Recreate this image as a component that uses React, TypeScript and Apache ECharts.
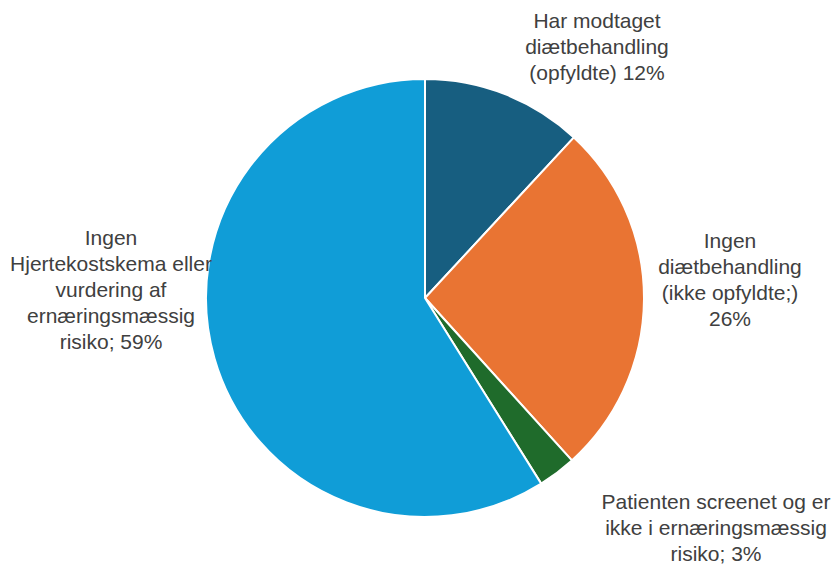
import React, { useEffect, useRef } from "react";
import * as echarts from "echarts";

const names = [
  "Har modtaget\ndiætbehandling\n(opfyldte)",
  "Ingen\ndiætbehandling\n(ikke opfyldte;)",
  "Patienten screenet og er\nikke i ernæringsmæssig\nrisiko;",
  "Ingen\nHjertekostskema eller\nvurdering af\nernæringsmæssig\nrisiko;",
];
const separators = [" ", "\n", " ", " "];
const values = [11.9, 26.4, 2.8, 58.9];
const colors = ["#175e80", "#e97433", "#1f6b2b", "#109dd7"];
const labelPos: [number, number][] = [
  [597, 46],
  [730, 279],
  [716, 527],
  [111, 289],
];

export default function App() {
  const ref = useRef<HTMLDivElement>(null);
  useEffect(() => {
    document.body.style.margin = "0";
    const chart = echarts.init(ref.current!, null, { renderer: "svg" });
    chart.setOption({
      animation: false,
      backgroundColor: "#ffffff",
      series: [
        {
          type: "pie",
          center: [425, 298],
          radius: 219,
          startAngle: 90,
          clockwise: true,
          itemStyle: { borderColor: "#ffffff", borderWidth: 2 },
          label: {
            show: true,
            color: "#404040",
            fontFamily: "Liberation Sans",
            fontSize: 21,
            lineHeight: 26,
            align: "center",
            overflow: "none",
            width: 400,
            formatter: (p: any) =>
              p.name + separators[p.dataIndex] + Math.round(p.percent) + "%",
          },
          labelLine: { show: false },
          labelLayout: (params: any) => ({
            x: labelPos[params.dataIndex][0],
            y: labelPos[params.dataIndex][1],
            align: "center",
            verticalAlign: "middle",
          }),
          emphasis: { disabled: true },
          data: names.map((n, i) => ({
            name: n,
            value: values[i],
            itemStyle: { color: colors[i] },
          })),
        },
      ],
    });
    return () => chart.dispose();
  }, []);
  return (
    <div
      ref={ref}
      style={{ position: "absolute", left: 0, top: 0, width: 838, height: 565 }}
    />
  );
}
